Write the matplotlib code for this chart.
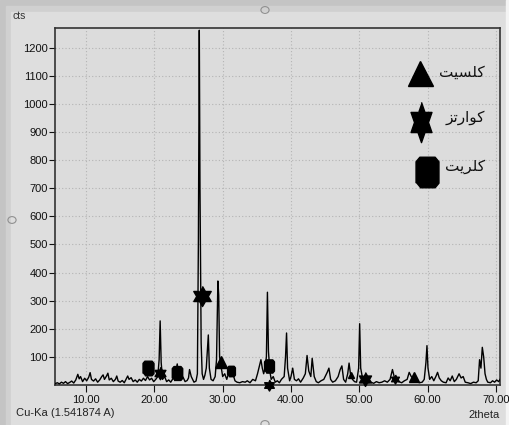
import matplotlib
matplotlib.use('Agg')
import matplotlib.pyplot as plt
from matplotlib.patches import Rectangle, Circle

# XRD pattern (2theta, counts)
two_theta = [5.5, 5.8, 6.1, 6.4, 6.7, 7.0, 7.3, 7.6, 7.9, 8.2, 8.5, 8.8, 9.0, 9.2, 9.5, 9.8,
             10.1, 10.4, 10.6, 10.8, 11.1, 11.4, 11.7, 12.0, 12.3, 12.5, 12.7, 13.0, 13.2, 13.4,
             13.7, 14.0, 14.3, 14.5, 14.7, 15.0, 15.3, 15.6, 15.9, 16.1, 16.3, 16.6, 16.9, 17.2,
             17.5, 17.8, 18.1, 18.4, 18.7, 19.0, 19.3, 19.6, 19.9, 20.2, 20.5, 20.7, 20.85, 21.0,
             21.2, 21.5, 21.8, 22.1, 22.4, 22.7, 23.0, 23.35, 23.6, 23.9, 24.2, 24.5, 24.8, 25.0,
             25.15, 25.4, 25.8, 26.1, 26.3, 26.45, 26.58, 26.68, 26.85, 27.0, 27.2, 27.4, 27.6,
             27.75, 27.9, 28.05, 28.3, 28.6, 28.9, 29.1, 29.3, 29.42, 29.55, 29.8, 30.0, 30.3,
             30.6, 30.9, 31.2, 31.5, 31.8, 32.1, 32.5, 32.9, 33.3, 33.6, 34.0, 34.4, 34.8, 35.1,
             35.4, 35.6, 35.8, 36.0, 36.2, 36.4, 36.55, 36.7, 36.9, 37.1, 37.4, 37.7, 38.0, 38.3,
             38.6, 39.0, 39.2, 39.35, 39.5, 39.8, 40.0, 40.25, 40.5, 40.8, 41.1, 41.4, 41.8, 42.1,
             42.35, 42.6, 42.9, 43.1, 43.4, 43.7, 44.0, 44.4, 44.8, 45.1, 45.3, 45.55, 45.8, 46.1,
             46.5, 46.9, 47.2, 47.45, 47.7, 48.0, 48.3, 48.5, 48.7, 49.0, 49.3, 49.6, 49.9, 50.05,
             50.2, 50.5, 50.9, 51.3, 51.7, 52.1, 52.5, 52.9, 53.3, 53.7, 54.1, 54.5, 54.85, 55.1,
             55.4, 55.8, 56.2, 56.6, 57.0, 57.3, 57.6, 58.0, 58.4, 58.8, 59.2, 59.5, 59.75, 59.9,
             60.05, 60.3, 60.6, 60.9, 61.2, 61.45, 61.7, 62.0, 62.3, 62.7, 63.0, 63.3, 63.6, 63.9,
             64.2, 64.6, 64.9, 65.2, 65.5, 65.9, 66.3, 66.7, 67.1, 67.4, 67.6, 67.8, 68.0, 68.2,
             68.4, 68.6, 68.8, 69.2, 69.5, 69.8, 70.1, 70.4, 70.6]
counts = [5, 8, 4, 10, 6, 12, 5, 9, 14, 7, 18, 38, 22, 30, 12, 24,
          15, 28, 44, 20, 14, 22, 10, 18, 30, 36, 20, 32, 42, 18,
          24, 12, 20, 32, 14, 10, 16, 8, 22, 32, 20, 26, 12, 18,
          10, 20, 14, 24, 16, 30, 18, 24, 12, 20, 30, 90, 228, 80,
          20, 30, 12, 18, 10, 22, 32, 75, 30, 20, 28, 12, 16, 25,
          55, 30, 10, 14, 40, 520, 1262, 700, 150, 40, 20, 35, 60,
          120, 178, 60, 20, 15, 30, 90, 370, 320, 100, 60, 30, 40,
          20, 45, 30, 40, 15, 10, 8, 12, 10, 15, 8, 20, 15, 40,
          70, 90, 60, 40, 60, 100, 330, 120, 50, 20, 30, 10, 15, 8,
          20, 30, 100, 185, 60, 15, 30, 60, 20, 15, 22, 10, 25, 40,
          105, 50, 30, 95, 30, 12, 8, 15, 20, 35, 45, 60, 20, 10,
          15, 30, 55, 68, 20, 10, 40, 78, 40, 20, 12, 10, 60, 218,
          60, 20, 12, 8, 10, 6, 12, 8, 10, 15, 10, 20, 55, 30,
          15, 12, 8, 15, 20, 45, 30, 20, 12, 8, 10, 20, 80, 140,
          60, 20, 30, 15, 30, 45, 25, 15, 10, 8, 25, 15, 32, 12,
          20, 40, 25, 30, 10, 8, 5, 10, 8, 15, 90, 60, 134, 100,
          40, 20, 10, 8, 15, 10, 18, 12, 20]

# phase markers (2theta, counts)
calcite_x = [29.76, 48.78, 58.0]
calcite_y = [82, 37, 29]
quartz_x = [20.88, 26.93, 36.73, 50.9, 55.2]
quartz_y = [41, 317, 0, 23, 23]
chlorite_x = [19.1, 23.27, 31.2, 36.78]
chlorite_y = [61, 43, 49, 68]

legend_labels = ['\uFE96\uFBFF\uFEB4\uFEE0\uFB90',        # کلسیت
                 '\uFEB0\uFE97\uFEAD\uFE8D\uFEEE\uFB90',  # کوارتز
                 '\uFE96\uFBFE\uFEAE\uFEE0\uFB90']        # کلریت

x_ticks = [10, 20, 30, 40, 50, 60, 70]
y_ticks = [100, 200, 300, 400, 500, 600, 700, 800, 900, 1000, 1100, 1200]

# marker shapes
star6 = [(0, 1), (0.289, 0.5), (0.866, 0.5), (0.577, 0), (0.866, -0.5), (0.289, -0.5),
         (0, -1), (-0.289, -0.5), (-0.866, -0.5), (-0.577, 0), (-0.866, 0.5), (-0.289, 0.5)]
star6_tall = [(a * 0.6, b) for a, b in star6]
octa = [(-0.75, -0.7), (-0.75, 0.7), (-0.5, 1), (0.5, 1), (0.75, 0.7), (0.75, -0.7),
        (0.5, -1), (-0.5, -1)]

calcite_sz = [8, 5, 7]
quartz_sz = [9, 14.5, 8, 10, 6.5]
chlorite_sz = [10.5, 10, 7.5, 9.5]

narrow = ['Liberation Sans Narrow', 'Liberation Sans', 'DejaVu Sans']

fig = plt.figure(figsize=(5.1, 4.25), dpi=100)
fig.patch.set_facecolor('#f2f2f2')
# panel + soft shadow like the screenshot
fig.patches.append(Rectangle((0, 0), 1, 1, transform=fig.transFigure, color='#c4c4c4', zorder=-10))
fig.patches.append(Rectangle((6 / 510, 0), 1, 1 - 6 / 425, transform=fig.transFigure,
                             color='#d0d0d0', zorder=-9))
fig.patches.append(Rectangle((11 / 510, 0), 1, 1 - 12 / 425, transform=fig.transFigure,
                             color='#dedede', zorder=-8))
fig.patches.append(Rectangle((506 / 510, 0), 4 / 510, 1, transform=fig.transFigure,
                             color='#f4f4f4', zorder=-7))
for cx, cy in [(265 / 510, 1 - 10 / 425), (12 / 510, 1 - 220 / 425), (265 / 510, 1 - 424 / 425)]:
    fig.patches.append(Circle((cx, cy), 0.008, transform=fig.transFigure, fc='none',
                              ec='#909090', lw=0.8, zorder=-6))

ax = fig.add_axes([55 / 510, 40 / 425, 445 / 510, 357 / 425])
ax.set_facecolor('#dcdcdc')
ax.plot(two_theta, counts, color='black', lw=1.0, zorder=3)

mk = dict(color='black', ls='none', zorder=4, clip_on=False)
for x, y, s in zip(calcite_x, calcite_y, calcite_sz):
    ax.plot(x, y, marker='^', ms=s, **mk)
for x, y, s in zip(quartz_x, quartz_y, quartz_sz):
    ax.plot(x, y, marker=star6, ms=s, **mk)
for x, y, s in zip(chlorite_x, chlorite_y, chlorite_sz):
    ax.plot(x, y, marker=octa, ms=s, **mk)

# legend drawn by hand
ax.plot(0.820, 0.874, marker='^', ms=18, transform=ax.transAxes, **mk)
ax.plot(0.822, 0.737, marker=star6_tall, ms=29, transform=ax.transAxes, **mk)
ax.plot(0.835, 0.597, marker=octa, ms=22, transform=ax.transAxes, **mk)
for yy, lab in zip([0.877, 0.748, 0.611], legend_labels):
    ax.text(0.966, yy, lab, transform=ax.transAxes, ha='right', va='center',
            fontsize=11, family='DejaVu Sans', color='#111111')

ax.set_xlim(5.46, 70.59)
ax.set_ylim(0, 1270)
ax.set_xticks(x_ticks)
ax.set_xticklabels(['%.2f' % t for t in x_ticks], family=narrow, fontsize=8)
ax.set_yticks(y_ticks)
ax.set_yticklabels([str(t) for t in y_ticks], family=narrow, fontsize=8)
ax.tick_params(axis='y', length=4, width=0.8, pad=1, colors='#111111')
ax.tick_params(axis='x', length=5, width=0.8, pad=2, colors='#111111')
ax.grid(True, ls=(0, (1, 2)), color='#b4b4b4', lw=0.8)
for sp in ax.spines.values():
    sp.set_color('#333333')
    sp.set_linewidth(1.2)

fig.text(13 / 510, 1 - 16 / 425, 'cts', family=narrow, fontsize=7.5, va='center', color='#333333')
fig.text(16 / 510, 1 - 413 / 425, 'Cu-Ka (1.541874 A)', family=narrow, fontsize=8,
         va='center', color='#222222')
fig.text(500 / 510, 1 - 415 / 425, '2theta', family=narrow, fontsize=8, va='center',
         ha='right', color='#222222')

fig.savefig('out.png', dpi=100, facecolor=fig.get_facecolor())
